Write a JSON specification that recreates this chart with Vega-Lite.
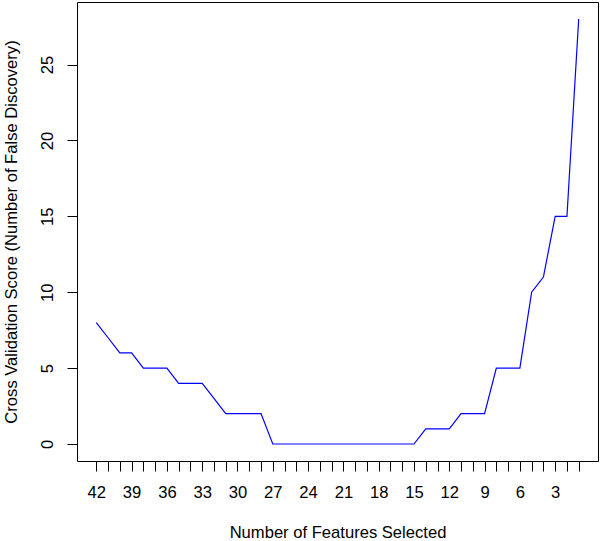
{
  "$schema": "https://vega.github.io/schema/vega-lite/v6.json",
  "width": 521,
  "height": 459,
  "autosize": {"type": "none"},
  "padding": {"left": 77, "top": 2, "right": 2, "bottom": 80},
  "background": "white",
  "config": {
    "view": {"stroke": "black", "strokeWidth": 1},
    "font": "Liberation Sans",
    "axis": {"grid": false, "domain": false, "tickColor": "black", "tickSize": 10, "tickWidth": 1, "labelColor": "black", "labelFont": "Liberation Sans", "labelFontSize": 16.6, "titleFont": "Liberation Sans", "titleFontSize": 16.6, "titleFontWeight": "normal", "titleColor": "black"}
  },
  "data": {"values": [
    {"n": 42, "score": 8}, {"n": 41, "score": 7}, {"n": 40, "score": 6}, {"n": 39, "score": 6},
    {"n": 38, "score": 5}, {"n": 37, "score": 5}, {"n": 36, "score": 5}, {"n": 35, "score": 4},
    {"n": 34, "score": 4}, {"n": 33, "score": 4}, {"n": 32, "score": 3}, {"n": 31, "score": 2},
    {"n": 30, "score": 2}, {"n": 29, "score": 2}, {"n": 28, "score": 2}, {"n": 27, "score": 0},
    {"n": 26, "score": 0}, {"n": 25, "score": 0}, {"n": 24, "score": 0}, {"n": 23, "score": 0},
    {"n": 22, "score": 0}, {"n": 21, "score": 0}, {"n": 20, "score": 0}, {"n": 19, "score": 0},
    {"n": 18, "score": 0}, {"n": 17, "score": 0}, {"n": 16, "score": 0}, {"n": 15, "score": 0},
    {"n": 14, "score": 1}, {"n": 13, "score": 1}, {"n": 12, "score": 1}, {"n": 11, "score": 2},
    {"n": 10, "score": 2}, {"n": 9, "score": 2}, {"n": 8, "score": 5}, {"n": 7, "score": 5},
    {"n": 6, "score": 5}, {"n": 5, "score": 10}, {"n": 4, "score": 11}, {"n": 3, "score": 15},
    {"n": 2, "score": 15}, {"n": 1, "score": 28}
  ]},
  "mark": {"type": "line", "color": "#0000FF", "strokeWidth": 1.2, "clip": true},
  "encoding": {
    "x": {
      "field": "n", "type": "quantitative",
      "scale": {"domain": [43.64, -0.64], "nice": false, "zero": false},
      "axis": {
        "title": "Number of Features Selected",
        "values": [42,41,40,39,38,37,36,35,34,33,32,31,30,29,28,27,26,25,24,23,22,21,20,19,18,17,16,15,14,13,12,11,10,9,8,7,6,5,4,3,2,1],
        "labelExpr": "datum.value % 3 == 0 ? datum.label : ''",
        "labelPadding": 13,
        "labelOverlap": false,
        "labelFlush": false,
        "titlePadding": 24
      }
    },
    "y": {
      "field": "score", "type": "quantitative",
      "scale": {"domain": [-1.12, 29.12], "nice": false, "zero": false},
      "axis": {
        "title": "Cross Validation Score (Number of False Discovery)",
        "values": [0, 5, 10, 15, 20, 25],
        "labelAngle": -90,
        "labelPadding": 12,
        "labelFlush": false,
        "titlePadding": 20
      }
    }
  }
}
